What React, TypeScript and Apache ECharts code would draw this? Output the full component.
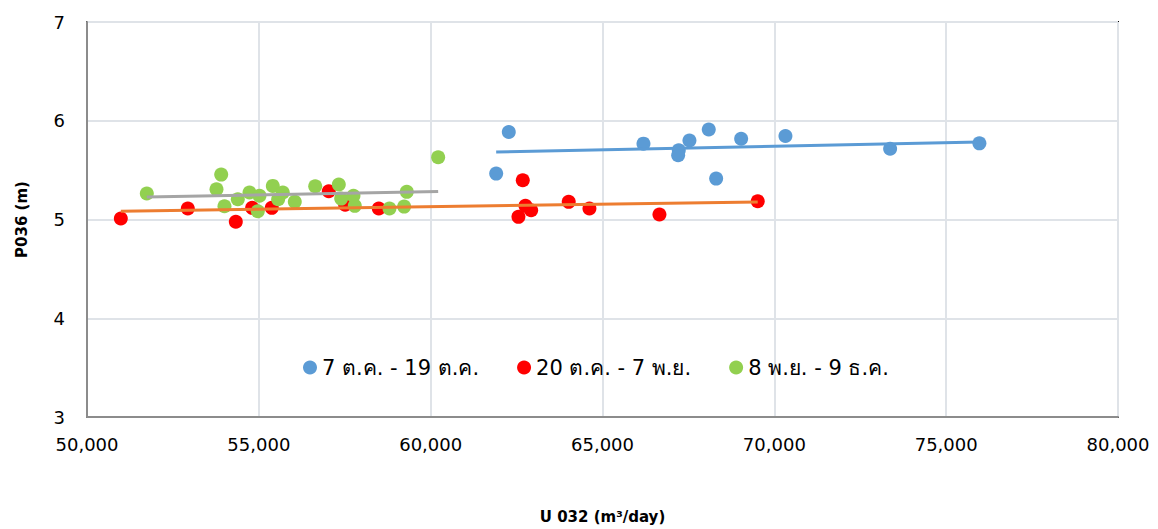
import React, { useEffect, useRef } from "react";
import * as echarts from "echarts";

const seriesNames = ["7 ต.ค. - 19 ต.ค.", "20 ต.ค. - 7 พ.ย.", "8 พ.ย. - 9 ธ.ค."];
const markerColors = ["#5b9bd5", "#ff0000", "#92d050"];
const trendColors = ["#5b9bd5", "#ed7d31", "#a5a5a5"];

const octX = [61906, 62273, 66192, 67219, 67201, 67530, 68092, 68307, 69034, 70323, 73369, 75967];
const octY = [5.465, 5.886, 5.768, 5.7, 5.65, 5.8, 5.912, 5.414, 5.818, 5.845, 5.717, 5.771];

const novX = [50984, 52933, 54330, 54806, 55377, 57035, 57512, 58490, 62680, 62758, 62924, 62554, 64017, 64620, 66657, 69517];
const novY = [5.01, 5.111, 4.977, 5.118, 5.118, 5.286, 5.15, 5.111, 5.397, 5.138, 5.094, 5.027, 5.179, 5.111, 5.05, 5.185];

const decX = [51740, 53905, 53768, 54000, 54388, 54728, 55019, 54970, 55406, 55697, 55562, 56046, 56640, 57327, 57396, 57754, 57792, 58801, 59228, 59305, 60218];
const decY = [5.263, 5.455, 5.306, 5.134, 5.205, 5.273, 5.24, 5.084, 5.34, 5.273, 5.205, 5.179, 5.337, 5.354, 5.212, 5.24, 5.138, 5.111, 5.131, 5.28, 5.63];

const xMin = 50000;
const xMax = 80000;
const xStep = 5000;
const yMin = 3;
const yMax = 7;
const yStep = 1;

const groups = [
  { x: octX, y: octY },
  { x: novX, y: novY },
  { x: decX, y: decY },
];

function trend(xs: number[], ys: number[]) {
  const n = xs.length;
  const mx = xs.reduce((a, b) => a + b, 0) / n;
  const my = ys.reduce((a, b) => a + b, 0) / n;
  let sxy = 0;
  let sxx = 0;
  for (let i = 0; i < n; i++) {
    sxy += (xs[i] - mx) * (ys[i] - my);
    sxx += (xs[i] - mx) * (xs[i] - mx);
  }
  const b = sxy / sxx;
  const a = my - b * mx;
  const lo = Math.min(...xs);
  const hi = Math.max(...xs);
  return [
    [lo, a + b * lo],
    [hi, a + b * hi],
  ];
}

const FONT = "'DejaVu Sans', 'Noto Sans', sans-serif";

export default function App() {
  const ref = useRef<HTMLDivElement>(null);
  useEffect(() => {
    document.body.style.margin = "0";
    if (!ref.current) return;
    const chart = echarts.init(ref.current, null, { renderer: "svg" });
    const scatterSeries = groups.map((g, i) => ({
      name: seriesNames[i],
      type: "scatter",
      symbol: "circle",
      symbolSize: 14,
      itemStyle: { color: markerColors[i], opacity: 1 },
      data: g.x.map((x, j) => [x, g.y[j]]),
      z: 3,
    }));
    const trendSeries = groups.map((g, i) => ({
      name: "trend" + i,
      type: "line",
      symbol: "none",
      lineStyle: { color: trendColors[i], width: 3 },
      data: trend(g.x, g.y),
      z: 4,
      silent: true,
    }));
    chart.setOption({
      animation: false,
      textStyle: { fontFamily: FONT },
      grid: {
        left: 87,
        right: 40,
        top: 22,
        bottom: 110,
        show: true,
        borderColor: "#000",
        borderWidth: 2,
      },
      legend: {
        data: seriesNames,
        left: 299,
        top: 355,
        icon: "circle",
        itemWidth: 14,
        itemHeight: 14,
        itemGap: 38,
        textStyle: { fontSize: 21, color: "#000", fontFamily: FONT },
        padding: [2, 4],
      },
      xAxis: {
        type: "value",
        min: xMin,
        max: xMax,
        interval: xStep,
        name: "U 032 (m³/day)",
        nameLocation: "middle",
        nameGap: 92,
        nameTextStyle: { fontSize: 15, fontWeight: "bold", color: "#000", fontFamily: FONT },
        axisLine: { show: true, onZero: false, lineStyle: { color: "#8c8c8c", width: 2 } },
        axisTick: { show: false },
        axisLabel: {
          fontSize: 18,
          color: "#000",
          margin: 18,
          fontFamily: FONT,
          formatter: (v: number) => v.toLocaleString("en-US"),
        },
        splitLine: { show: true, lineStyle: { color: "#dfe3e8", width: 2 } },
      },
      yAxis: {
        type: "value",
        min: yMin,
        max: yMax,
        interval: yStep,
        name: "P036 (m)",
        nameLocation: "middle",
        nameGap: 58,
        nameRotate: 90,
        nameTextStyle: { fontSize: 15, fontWeight: "bold", color: "#000", fontFamily: FONT },
        axisLine: { show: true, lineStyle: { color: "#8c8c8c", width: 2 } },
        axisTick: { show: false },
        axisLabel: { fontSize: 18, color: "#000", margin: 22, fontFamily: FONT },
        splitLine: { show: true, lineStyle: { color: "#dfe3e8", width: 2 } },
      },
      series: [...scatterSeries, ...trendSeries],
    });
    return () => chart.dispose();
  }, []);
  return <div ref={ref} style={{ width: 1158, height: 529 }} />;
}
